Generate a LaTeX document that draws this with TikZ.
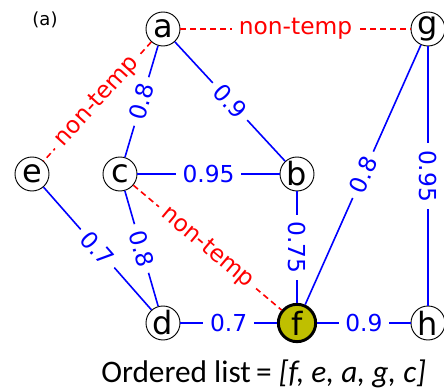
\documentclass[tikz,border=0pt]{standalone}
\usepackage{fontspec}
\setmainfont{DejaVu Sans}
\newfontfamily\listfont{Carlito}
\definecolor{olivefill}{RGB}{191,191,0}
\begin{document}
\begin{tikzpicture}[x=0.75pt, y=-0.75pt,
    vert/.style={shape=circle, draw, fill=white, line width=0.7pt, minimum size=25.5pt, inner sep=0pt, font=\fontsize{24}{24}\selectfont},
    seed/.style={vert, fill=olivefill, line width=2.2pt, minimum size=28pt},
    wedge/.style={draw=blue, line width=1.2pt},
    ntedge/.style={draw=red, line width=1.2pt, dash pattern=on 4.5pt off 3pt},
    wlab/.style={sloped, fill=white, text=blue, inner xsep=5pt, inner ysep=1pt, font=\fontsize{17.5}{17.5}\selectfont},
    ntlab/.style={wlab, text=red}]
  \useasboundingbox (0,0) rectangle (444,391);

  % vertices
  \node[vert] (a) at (163, 29){a};
  \node[vert] (g) at (428, 29){g};
  \node[vert] (e) at (32, 174){e};
  \node[vert] (c) at (120, 174){c};
  \node[vert] (b) at (297, 174){b};
  \node[vert] (d) at (163, 323){d};
  \node[seed] (f) at (297, 323){f};
  \node[vert] (h) at (428, 323){h};

  \node[font=\fontsize{13.5}{13.5}\selectfont] (tag) at (45, 20){(a)};

  % weighted edges
  \draw[wedge] (a) -- node[wlab]{0.8} (c);
  \draw[wedge] (a) -- node[wlab]{0.9} (b);
  \draw[wedge] (c) -- node[wlab]{0.95} (b);
  \draw[wedge] (e) -- node[wlab]{0.7} (d);
  \draw[wedge] (c) -- node[wlab]{0.8} (d);
  \draw[wedge] (b) -- node[wlab]{0.75} (f);
  \draw[wedge] (g) -- node[wlab]{0.8} (f);
  \draw[wedge] (g) -- node[wlab]{0.95} (h);
  \draw[wedge] (d) -- node[wlab]{0.7} (f);
  \draw[wedge] (f) -- node[wlab]{0.9} (h);

  % non-temp edges
  \draw[ntedge] (a) -- node[ntlab]{non-temp} (g);
  \draw[ntedge] (a) -- node[ntlab]{non-temp} (e);
  \draw[ntedge] (c) -- node[ntlab]{non-temp} (f);

  \node[anchor=base west, font=\listfont\fontsize{23.5}{23.5}\selectfont, inner sep=0pt] (order) at (101, 383){Ordered list\,= \textit{[f, e, a, g, c]}};
\end{tikzpicture}
\end{document}
